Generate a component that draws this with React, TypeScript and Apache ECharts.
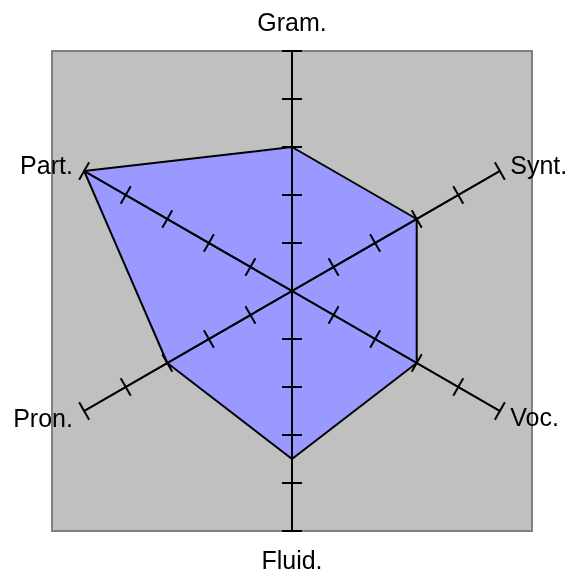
import React, { useEffect, useRef } from "react";
import * as echarts from "echarts";

// Indicators in ECharts order (start at top, counter-clockwise)
const categories = ["Gram.", "Part.", "Pron.", "Fluid.", "Voc.", "Synt."];
const values = [3, 5, 3, 3.5, 3, 3];
const maxValue = 5;
const tickValues = [1, 2, 3, 4, 5];
const nameGaps = [17, 13, 13, 16, 12, 12];

export default function App() {
  const ref = useRef<HTMLDivElement>(null);
  useEffect(() => {
    if (!ref.current) return;
    const chart = echarts.init(ref.current, null, { renderer: "svg" });
    const cx = 292;
    const cy = 291;
    const r = 240;
    const indicator = categories.map((name, i) => ({
      name,
      max: maxValue,
      min: 0,
      nameGap: nameGaps[i],
    }));
    const commonRadar = {
      center: [cx, cy],
      radius: r,
      startAngle: 90,
      splitNumber: 5,
      shape: "polygon",
      z: 3,
      splitLine: { show: false },
      splitArea: { show: false },
      axisLine: { show: true, lineStyle: { color: "#000", width: 2 } },
      axisLabel: { show: false },
    };
    chart.setOption({
      animation: false,
      graphic: [
        {
          type: "rect",
          z: 0,
          shape: { x: cx - r, y: cy - r, width: 2 * r, height: 2 * r },
          style: { fill: "#c0c0c0", stroke: "#808080", lineWidth: 2 },
        },
      ],
      radar: [
        {
          ...commonRadar,
          indicator,
          axisName: {
            show: true,
            color: "#000",
            fontSize: 25,
            fontFamily: "Liberation Sans, Arial, sans-serif",
          },
          axisTick: {
            show: true,
            length: 10,
            customValues: tickValues,
            lineStyle: { color: "#000", width: 2 },
          },
        },
        {
          ...commonRadar,
          indicator,
          axisName: { show: false },
          axisTick: {
            show: true,
            length: -10,
            customValues: tickValues,
            lineStyle: { color: "#000", width: 2 },
          },
        },
      ],
      series: [
        {
          type: "radar",
          radarIndex: 0,
          z: 1,
          symbol: "none",
          silent: true,
          lineStyle: { width: 0, opacity: 0 },
          areaStyle: { color: "#9999ff", opacity: 1 },
          data: [{ value: values }],
        },
        {
          type: "radar",
          radarIndex: 0,
          z: 2,
          symbol: "none",
          silent: true,
          lineStyle: { color: "#000", width: 2 },
          data: [{ value: values }],
        },
      ],
    });
    return () => chart.dispose();
  }, []);
  return (
    <div
      ref={ref}
      style={{ position: "fixed", left: 0, top: 0, width: 571, height: 573 }}
    />
  );
}
